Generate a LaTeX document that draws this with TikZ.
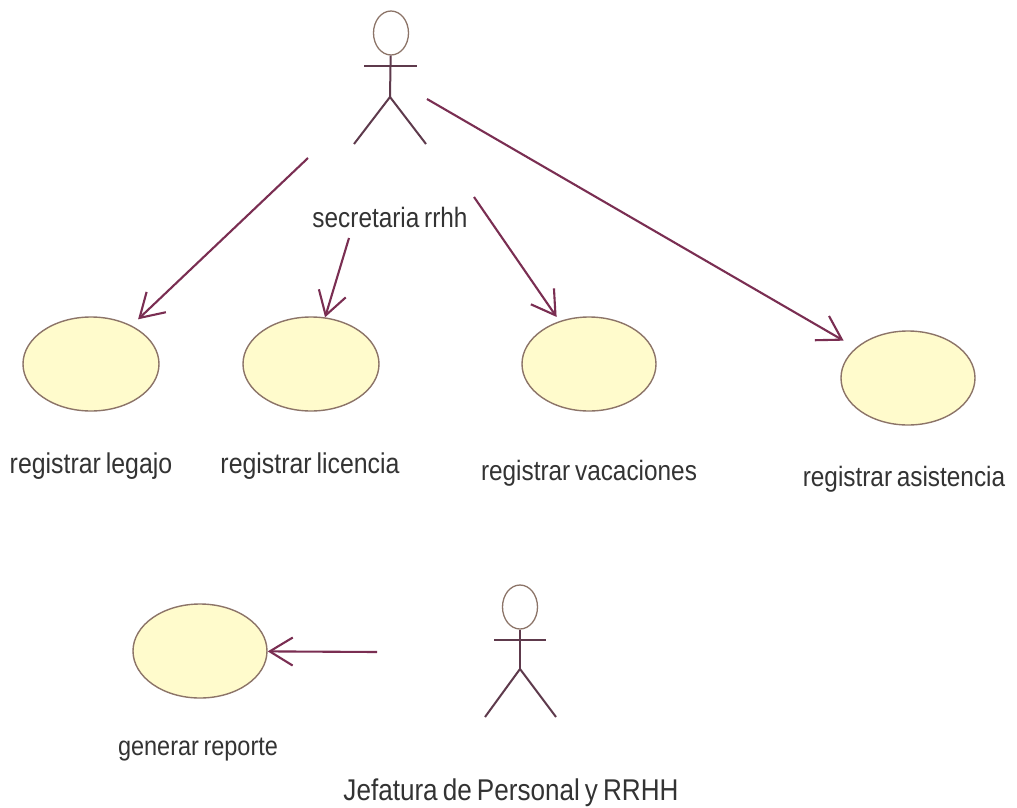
\documentclass[tikz,border=0pt]{standalone}
\usepackage{fontspec}
\setmainfont[FakeStretch=0.87,WordSpace=0.7]{Liberation Sans}
\usetikzlibrary{arrows.meta,shapes.geometric}
\definecolor{umlline}{HTML}{7A2E52}
\definecolor{umlfill}{HTML}{FFFBCC}
\definecolor{umledge}{HTML}{8C7468}
\definecolor{umltext}{HTML}{333333}
\definecolor{umlactor}{HTML}{5E3A4C}
\tikzset{
  x=1pt,y=-1pt,
  usecase/.style={ellipse,draw=umledge,fill=umlfill,line width=1.4pt,minimum width=134pt,minimum height=94pt,inner sep=0pt},
  textlabel/.style={text=umltext,font=\fontsize{28}{30}\selectfont,inner sep=0pt,anchor=center},
  assoc/.style={draw=umlline,line width=2.1pt,-{Straight Barb[length=23pt,width=28pt,line width=2.1pt]}},
  actorline/.style={draw=umlactor,line width=2pt},
  actorhead/.style={ellipse,draw=umledge,line width=1.3pt,fill=white,minimum width=35pt,minimum height=44pt,inner sep=0pt},
}
\begin{document}
\begin{tikzpicture}
\useasboundingbox[fill=white] (0,0) rectangle (1017,808);
% use cases
\node[usecase,minimum width=136pt] (legajo) at (91,364) {};
\node[usecase,minimum width=136pt] (licencia) at (311,364) {};
\node[usecase] (vacaciones) at (589,364) {};
\node[usecase] (asistencia) at (908,378) {};
\node[usecase] (reporte) at (200,651) {};
% labels
\node[textlabel,font=\fontsize{28.6}{30}\selectfont] (tlegajo) at (91,466) {registrar legajo};
\node[textlabel,font=\fontsize{28.6}{30}\selectfont] (tlicencia) at (310,466) {registrar licencia};
\node[textlabel] (tvacaciones) at (589,473) {registrar vacaciones};
\node[textlabel] (tasistencia) at (904,479) {registrar asistencia};
\node[textlabel,font=\fontsize{27}{30}\selectfont] (treporte) at (198,750) {generar reporte};
\node[textlabel] (tsec) at (390,217) {secretaria rrhh};
\node[textlabel,font=\fontsize{30}{32}\selectfont] (tjef) at (511,793) {Jefatura de Personal y RRHH};
% actor 1
\node[actorhead] (head1) at (391,33) {};
\coordinate (hip1) at (390,97);
\coordinate (arml1) at (364,66);
\coordinate (armr1) at (417,66);
\coordinate (legl1) at (354,144);
\coordinate (legr1) at (426,144);
\draw[actorline] (head1) -- (hip1);
\draw[actorline] (arml1) -- (armr1);
\draw[actorline] (legl1) -- (hip1) -- (legr1);
% actor 2
\node[actorhead] (head2) at (520,607) {};
\coordinate (hip2) at (520,669);
\coordinate (arml2) at (494,640);
\coordinate (armr2) at (546,640);
\coordinate (legl2) at (485,717);
\coordinate (legr2) at (556,717);
\draw[actorline] (head2) -- (hip2);
\draw[actorline] (arml2) -- (armr2);
\draw[actorline] (legl2) -- (hip2) -- (legr2);
% arrows
\coordinate (s1) at (308,158);
\coordinate (s2) at (349,238);
\coordinate (s3) at (474,197);
\coordinate (s4) at (427,99);
\coordinate (s5) at (377,652);
\draw[assoc,shorten >=9pt] (s1) -- (legajo);
\draw[assoc] (s2) -- (licencia);
\draw[assoc,shorten >=5pt] (s3) -- (vacaciones);
\draw[assoc,shorten >=14pt] (s4) -- (asistencia);
\draw[assoc] (s5) -- (reporte);
\end{tikzpicture}
\end{document}
